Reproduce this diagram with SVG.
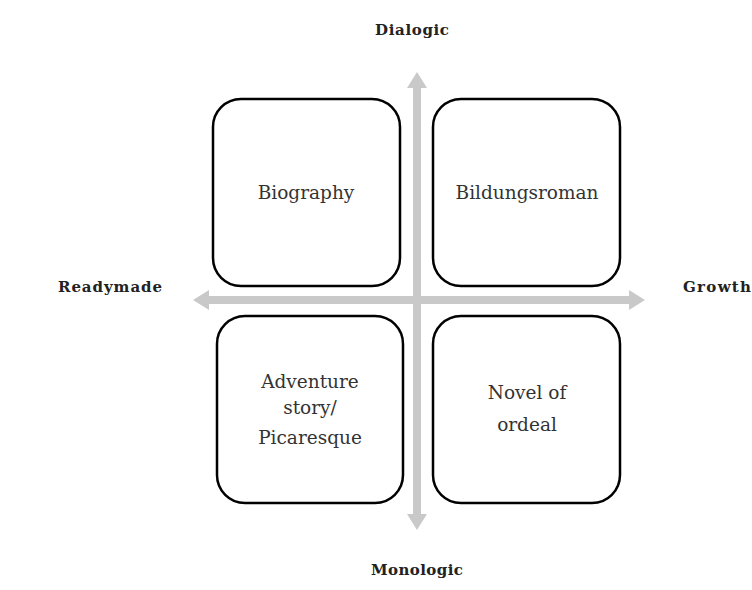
<svg xmlns="http://www.w3.org/2000/svg" width="752" height="590" viewBox="0 0 752 590">
<style>
.box{fill:#fff;stroke:#000;stroke-width:2.5}
.t{font-family:"DejaVu Serif",serif;font-size:18.5px;fill:#333;text-anchor:middle}
.lab{font-family:"DejaVu Serif",serif;font-size:15px;font-weight:bold;fill:#222;text-anchor:middle}
.ax{stroke:#c9c9c9;stroke-width:8;fill:none}
.ah{fill:#c9c9c9}
</style>
<rect width="752" height="590" fill="#fff"/>
<g id="connectors">
<line class="ax" x1="417" y1="86" x2="417" y2="516"/>
<polygon class="ah" points="417,72 407,88 427,88"/>
<polygon class="ah" points="417,530 407,514 427,514"/>
<line class="ax" x1="207" y1="300" x2="631" y2="300"/>
<polygon class="ah" points="193,300 209,290 209,310"/>
<polygon class="ah" points="645,300 629,290 629,310"/>
</g>
<g id="biography">
<rect class="box" x="213" y="99" width="187" height="187" rx="28"/>
<text class="t" x="306" y="199">Biography</text>
</g>
<g id="bildungsroman">
<rect class="box" x="433" y="99" width="187" height="187" rx="28"/>
<text class="t" x="527" y="199">Bildungsroman</text>
</g>
<g id="adventure">
<rect class="box" x="217" y="316" width="186" height="187" rx="28"/>
<text class="t" x="310" y="388">Adventure</text>
<text class="t" x="310" y="414">story/</text>
<text class="t" x="310" y="444">Picaresque</text>
</g>
<g id="ordeal">
<rect class="box" x="433" y="316" width="187" height="187" rx="28"/>
<text class="t" x="527" y="399">Novel of</text>
<text class="t" x="527" y="431">ordeal</text>
</g>
<g id="dialogic"><text class="lab" x="412" y="35" textLength="74">Dialogic</text></g>
<g id="monologic"><text class="lab" x="417" y="575" textLength="92">Monologic</text></g>
<g id="readymade"><text class="lab" x="110" y="292" textLength="104">Readymade</text></g>
<g id="growth"><text class="lab" x="717" y="292" textLength="68">Growth</text></g>
</svg>
